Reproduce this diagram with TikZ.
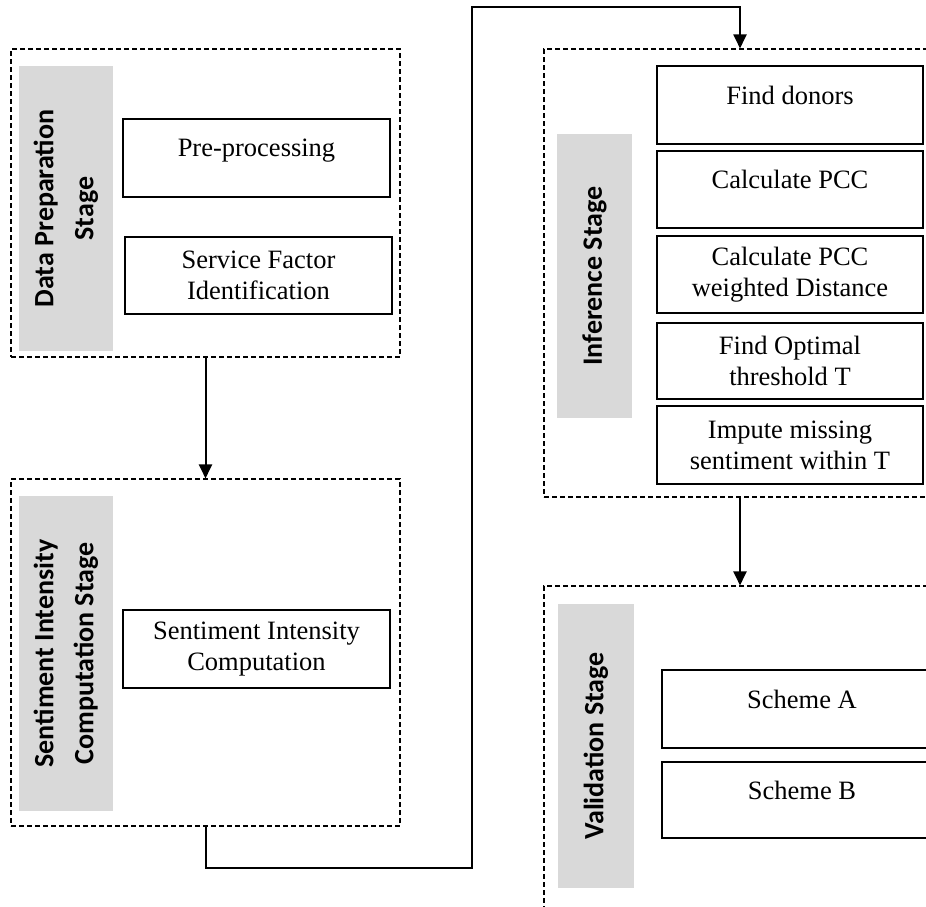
\documentclass[tikz,border=0pt]{standalone}
\usepackage{fontspec}
\setmainfont{Liberation Serif}
\newfontfamily\stagefont{Carlito}
\usetikzlibrary{arrows.meta}
\begin{document}
\begin{tikzpicture}[x=1pt,y=-1pt,
  stagebox/.style={draw, dash pattern=on 5pt off 3pt, line width=1.1pt, inner sep=0pt},
  band/.style={fill=black!15, draw=none, rotate=90, inner sep=0pt, align=center,
    font=\stagefont\bfseries\fontsize{28}{40}\selectfont},
  stepbox/.style={draw, line width=2.2pt, inner sep=0pt, align=center,
    font=\fontsize{26.5}{31}\selectfont},
  oneline/.style={text depth=20pt},
  conn/.style={line width=2pt, -{Triangle[width=13pt,length=14pt]}},
  plain/.style={line width=2pt}]
\useasboundingbox (0,0) rectangle (926,906);
\clip (0,0) rectangle (926,906);

% dashed stage frames
\node[stagebox, minimum width=389pt, minimum height=308pt] (s1) at (205.5,203) {};
\node[stagebox, minimum width=389pt, minimum height=347pt] (s2) at (205.5,652.5) {};
\node[stagebox, minimum width=392pt, minimum height=448pt] (s3) at (740,273) {};
\node[stagebox, minimum width=392pt, minimum height=360pt] (s4) at (740,766) {};

% grey stage titles
\node[band, minimum width=285pt, minimum height=94pt] (t1) at (66,208.5) {Data Preparation\\Stage};
\node[band, minimum width=315pt, minimum height=94pt] (t2) at (66,653.5) {Sentiment Intensity\\Computation Stage};
\node[band, minimum width=284pt, minimum height=75pt] (t3) at (594.5,276) {Inference Stage};
\node[band, minimum width=284pt, minimum height=76pt] (t4) at (596,746) {Validation Stage};

% steps of each stage
\node[stepbox, oneline, minimum width=267pt, minimum height=78pt] (pre) at (256.5,158) {Pre-processing};
\node[stepbox, minimum width=267pt, minimum height=77pt] (sfi) at (258.5,275.5) {Service Factor\\Identification};
\node[stepbox, minimum width=267pt, minimum height=78pt] (sic) at (256.5,649) {Sentiment Intensity\\Computation};

\node[stepbox, oneline, minimum width=266pt, minimum height=78pt] (fd) at (790,105) {Find donors};
\node[stepbox, oneline, minimum width=266pt, minimum height=77pt] (pcc) at (790,189.5) {Calculate PCC};
\node[stepbox, minimum width=266pt, minimum height=77pt] (wd) at (790,274.5) {Calculate PCC\\weighted Distance};
\node[stepbox, minimum width=266pt, minimum height=76pt] (opt) at (790,361) {Find Optimal\\threshold T};
\node[stepbox, minimum width=266pt, minimum height=78pt] (imp) at (790,445) {Impute missing\\sentiment within T};

\node[stepbox, oneline, minimum width=280pt, minimum height=78pt] (sa) at (802,709) {Scheme A};
\node[stepbox, oneline, minimum width=280pt, minimum height=76pt] (sb) at (802,800) {Scheme B};

% flow between stages
\coordinate (bendA) at (472,868);
\coordinate (bendB) at (472,7);
\draw[conn] (s1.south) -- (s2.north);
\draw[conn] (s2.south) |- (bendA) -- (bendB) -| (s3.north);
\draw[conn] (s3.south) -- (s4.north);
\end{tikzpicture}
\end{document}
